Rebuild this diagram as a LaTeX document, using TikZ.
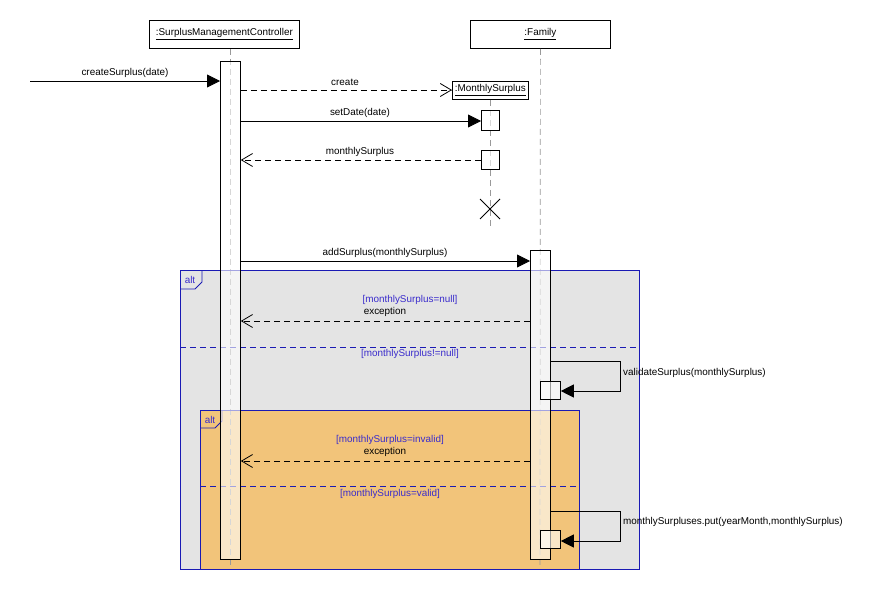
\documentclass[tikz,border=0pt]{standalone}
\usepackage{fontspec}
\setmainfont{Liberation Sans}
\usetikzlibrary{arrows.meta,calc}
\definecolor{framegray}{HTML}{E4E4E4}
\definecolor{frameorange}{HTML}{F2C47A}
\definecolor{frameblue}{HTML}{1A1AB4}
\definecolor{guardblue}{HTML}{3A2CCC}
\tikzset{
  lbl/.style={font=\fontsize{9.9}{11}\selectfont, inner sep=0pt},
  guard/.style={lbl, text=guardblue},
  objbox/.style={draw, fill=white, line width=0.8pt},
  lifeline/.style={draw=gray!80, dash pattern=on 6pt off 4pt, line width=0.7pt},
  actbar/.style={draw, line width=0.8pt, fill=white, fill opacity=0.6},
  call/.style={draw, line width=0.8pt, -{Triangle[length=13pt,width=13pt]}},
  reply/.style={draw, line width=0.8pt, dash pattern=on 6pt off 4pt, -{Straight Barb[length=11pt,width=13pt]}},
  frame/.style={draw=frameblue, line width=0.8pt},
  sep/.style={draw=frameblue, line width=0.8pt, dash pattern=on 6pt off 4pt},
}
\begin{document}
\begin{tikzpicture}[x=1pt,y=-1pt]
\useasboundingbox (0,0) rectangle (880,610);

% combined fragments (backgrounds)
\fill[framegray] (180,270) rectangle (639,569);
\fill[frameorange] (200,410) rectangle (579,569);

% participants
\node[objbox, minimum width=150pt, minimum height=28pt, anchor=north west] (smc) at (149,20) {};
\node[lbl] at (smc.center) {\underline{:SurplusManagementController}};
\node[objbox, minimum width=140pt, minimum height=28pt, anchor=north west] (fam) at (470,20) {};
\node[lbl] at (fam.center) {\underline{:Family}};
\node[objbox, minimum width=76pt, minimum height=18pt, anchor=north west] (ms) at (452,81) {};
\node[lbl] at (ms.center) {\underline{:MonthlySurplus}};

% lifelines
\draw[lifeline] (smc.south -| 230,0) -- (230,566);
\draw[lifeline] (fam.south) -- (540,566);
\draw[lifeline] (ms.south -| 490,0) -- (490,228);

% outer alt frame
\draw[frame] (180,270) rectangle (639,569);
\draw[frame] (180,289) -- (195,289) -- (202,282) -- (202,270);
\node[lbl, text=guardblue] (alt1) at (190,280) {alt};
\draw[sep] (180,347) -- (639,347);

% inner alt frame
\draw[frame] (200,410) rectangle (579,569);
\draw[frame] (200,428) -- (215,428) -- (222,421) -- (222,410);
\node[lbl, text=guardblue] (alt2) at (210,420) {alt};
\draw[sep] (200,486) -- (579,486);

% activation bars
\node[actbar, minimum width=20pt, minimum height=498pt, anchor=north west, inner sep=0pt] (smcact) at (220,61) {};
\node[actbar, minimum width=20pt, minimum height=309pt, anchor=north west, inner sep=0pt] (famact) at (530,250) {};
\node[actbar, minimum width=18pt, minimum height=20pt, anchor=north west, inner sep=0pt] (msact1) at (481,110) {};
\node[actbar, minimum width=18pt, minimum height=19pt, anchor=north west, inner sep=0pt] (msact2) at (481,150) {};
\node[actbar, minimum width=20pt, minimum height=18pt, anchor=north west, inner sep=0pt] (valact) at (540,381) {};
\node[actbar, minimum width=20pt, minimum height=18pt, anchor=north west, inner sep=0pt] (putact) at (540,530) {};

% destruction of MonthlySurplus
\coordinate (msend) at (490,209);
\draw[line width=0.8pt] ($(msend)+(-10,-10)$) -- ($(msend)+(10,10)$);
\draw[line width=0.8pt] ($(msend)+(-10,10)$) -- ($(msend)+(10,-10)$);

% messages
\coordinate (start) at (30,81);
\draw[call] (start) -- (smcact.west |- start);
\node[lbl] at (125,73) {createSurplus(date)};

\draw[reply] (smcact.east |- 0,90) -- (ms.west |- 0,90);
\node[lbl] at (345,82) {create};

\draw[call] (smcact.east |- 0,121) -- (msact1.west |- 0,121);
\node[lbl] at (360,113) {setDate(date)};

\draw[reply] (msact2.west |- 0,160) -- (smcact.east |- 0,160);
\node[lbl] at (360,152) {monthlySurplus};

\draw[call] (smcact.east |- 0,261) -- (famact.west |- 0,261);
\node[lbl] at (385,253) {addSurplus(monthlySurplus)};

\node[guard] at (410,300) {[monthlySurplus=null]};
\node[lbl] at (385,312) {exception};
\draw[reply] (famact.west |- 0,321) -- (smcact.east |- 0,321);

\node[guard] at (410,354) {[monthlySurplus!=null]};
\draw[call] (famact.east |- 0,361) -- (620,361) -- (620,391) -- (valact.east |- 0,391);
\node[lbl, anchor=west] at (623,373) {validateSurplus(monthlySurplus)};

\node[guard] at (390,440) {[monthlySurplus=invalid]};
\node[lbl] at (385,452) {exception};
\draw[reply] (famact.west |- 0,461) -- (smcact.east |- 0,461);

\node[guard] at (390,494) {[monthlySurplus=valid]};
\draw[call] (famact.east |- 0,511) -- (620,511) -- (620,541) -- (putact.east |- 0,541);
\node[lbl, anchor=west] at (623,522) {monthlySurpluses.put(yearMonth,monthlySurplus)};
\end{tikzpicture}
\end{document}
